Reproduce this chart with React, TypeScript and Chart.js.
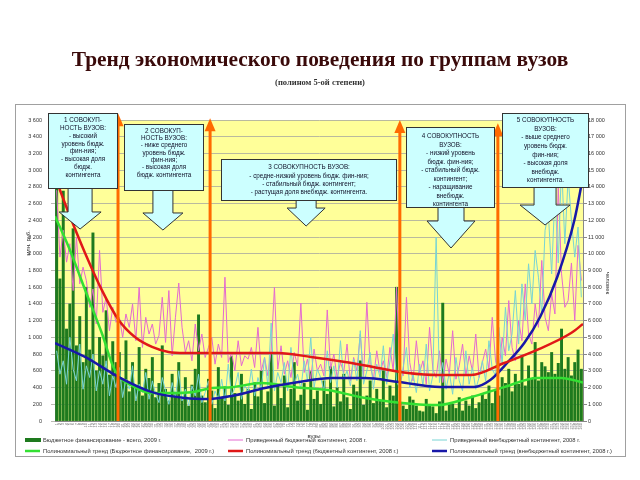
import React, { useEffect, useRef } from 'react';
import { Chart, registerables } from 'chart.js';

Chart.register(...registerables);

// ---------- DATA ----------
const universities: number[] = Array.from({ length: 160 }, (_, i) => i + 1);

// Бюджетное финансирование - всего, 2009 г. (млн. руб., left axis)
const budgetFinancing2009 = [
  2800, 1700, 2750, 1100, 1400, 2300, 900, 1250, 700, 1600,
  850, 2250, 600, 1000, 780, 1320, 550, 950, 700, 820,
  480, 960, 350, 700, 420, 880, 300, 620, 510, 760,
  280, 450, 900, 380, 240, 560, 330, 700, 260, 520,
  180, 430, 620, 1270, 300, 220, 500, 360, 150, 640,
  280, 410, 190, 770, 330, 240, 560, 200, 380, 140,
  460, 290, 600, 210, 350, 820, 180, 420, 270, 540,
  160, 380, 700, 240, 310, 450, 130, 590, 260, 360,
  200, 480, 320, 650, 170, 400, 230, 560, 280, 140,
  430, 350, 720, 190, 300, 480, 210, 380, 250, 600,
  160, 420, 300, 1600, 220, 180, 140, 290, 250, 180,
  120, 110, 260, 200, 170, 90, 230, 1410, 120, 210,
  200, 150, 280, 120, 240, 180, 300, 150, 220, 330,
  260, 420, 210, 380, 300, 520, 450, 620, 350, 560,
  440, 780, 420, 660, 500, 940, 480, 700, 650, 580,
  820, 560, 690, 1100, 620, 760, 540, 700, 850, 620,
];

// Приведенный бюджетный контингент, 2008 г. (человек, right axis)
const budgetContingent2008 = [
  13800, 9800, 11400, 9500, 10600, 7800, 11000, 8200, 9200, 8400,
  6800, 7900, 5800, 10200, 6500, 7400, 5400, 6800, 5900, 6200,
  5000, 6400, 5600, 7000, 4800, 8000, 4400, 6200, 5200, 5800,
  4600, 5100, 7400, 4700, 7800, 3900, 6200, 8250, 5600, 4100,
  4800, 3600, 5800, 4200, 5200, 3800, 4400, 5000, 3400, 4600,
  3800, 8600, 3500, 4100, 3000, 4800, 3300, 3900, 3700, 4400,
  3200, 5600, 3000, 3800, 2700, 4200, 8000, 3100, 4500, 2800,
  3600, 2600, 4100, 3300, 7050, 2900, 3700, 2500, 4300, 3000,
  3400, 2700, 6640, 3100, 4000, 2600, 3500, 2900, 4600, 2400,
  3800, 3000, 5200, 2700, 7100, 3300, 2500, 4200, 2900, 3600,
  2600, 4400, 3000, 8000, 3200, 2700, 7400, 3500, 2400, 4800,
  2900, 3600, 2200, 5600, 3100, 2600, 4200, 2300, 3700, 2800,
  5400, 2500, 3300, 4600, 2700, 3900, 3000, 5200, 2600, 3500,
  4300, 3100, 6200, 3600, 2800, 5000, 3900, 7200, 4400, 3600,
  6000, 4800, 8200, 5200, 4600, 7000, 5600, 9600, 6200, 5400,
  7600, 6400, 14000, 8800, 6800, 7200, 9450, 6000, 10500, 8400,
];

// Приведенный внебюджетный контингент, 2008 г. (человек, right axis)
const extraBudgetContingent2008 = [
  4200, 2800, 3600, 2200, 5000, 3100, 2400, 4600, 1900, 3300,
  2600, 4000, 1800, 3000, 2200, 3600, 1500, 2700, 2000, 3200,
  1400, 2500, 1900, 3300, 1200, 2200, 1700, 2900, 1300, 2400,
  1600, 1100, 2600, 1800, 1000, 2300, 1400, 3000, 1200, 1900,
  900, 2100, 1500, 2800, 1100, 1700, 2400, 1000, 1800, 1300,
  2500, 1200, 3400, 1500, 2000, 2900, 1300, 2200, 1700, 3100,
  1500, 2600, 1900, 3800, 2100, 5860, 1800, 2900, 2300, 3500,
  1800, 4400, 2200, 2800, 1900, 3600, 2400, 5000, 2000, 3100,
  2600, 1800, 4200, 2300, 3300, 2000, 4800, 2500, 3000, 2100,
  3700, 2400, 5400, 2200, 3000, 4100, 1900, 3400, 2600, 4500,
  2200, 3600, 5200, 2400, 1900, 3200, 4400, 2000, 2800, 1700,
  3400, 2100, 4600, 1800, 2700, 11000, 2300, 3500, 1900, 2900,
  1600, 3800, 2400, 1800, 4200, 2200, 3200, 1900, 2600, 3600,
  2400, 4800, 3100, 2700, 5600, 3400, 6800, 4200, 5200, 7800,
  4600, 8200, 6000, 9400, 7000, 10200, 8600, 6400, 11400, 12400,
  8800, 13600, 9450, 15400, 10600, 14600, 12000, 9800, 11600, 7400,
];

// Полиномиальные тренды
const budgetFinancingTrend = [
  { x: 0.5, y: 2450 }, { x: 4.65, y: 2080 }, { x: 9.6, y: 1570 }, { x: 14.7, y: 1050 },
  { x: 18.6, y: 610 }, { x: 24.7, y: 405 }, { x: 29.9, y: 335 }, { x: 34.9, y: 335 },
  { x: 42.1, y: 345 }, { x: 48.2, y: 395 }, { x: 54.1, y: 405 }, { x: 63, y: 455 },
  { x: 73.2, y: 405 }, { x: 83.2, y: 370 }, { x: 93.2, y: 285 }, { x: 103.5, y: 225 },
  { x: 116.3, y: 190 }, { x: 126.6, y: 285 }, { x: 136.6, y: 405 }, { x: 146.6, y: 515 },
  { x: 153.9, y: 515 }, { x: 160.5, y: 460 },
];
const budgetContingentTrend = [
  { x: 0.5, y: 14600 }, { x: 4.65, y: 12440 }, { x: 9.6, y: 10050 }, { x: 14.7, y: 7830 },
  { x: 19.8, y: 6040 }, { x: 24.7, y: 5020 }, { x: 29.9, y: 4430 }, { x: 34.9, y: 4130 },
  { x: 39.9, y: 4070 }, { x: 54.1, y: 4070 }, { x: 68.1, y: 4060 }, { x: 78.1, y: 3830 },
  { x: 88.4, y: 3530 }, { x: 98.4, y: 3170 }, { x: 107.5, y: 2870 }, { x: 116.3, y: 2750 },
  { x: 126.6, y: 2750 }, { x: 136.6, y: 3470 }, { x: 146.6, y: 4250 }, { x: 156.9, y: 5260 },
  { x: 160.5, y: 5800 },
];
const extraBudgetContingentTrend = [
  { x: 0.5, y: 4660 }, { x: 9.6, y: 3830 }, { x: 19.8, y: 2630 }, { x: 29.9, y: 1730 },
  { x: 39.9, y: 1380 }, { x: 47.1, y: 1320 }, { x: 54.1, y: 1500 }, { x: 64.1, y: 1970 },
  { x: 74.4, y: 2330 }, { x: 84.4, y: 2570 }, { x: 94.4, y: 2570 }, { x: 104.7, y: 2330 },
  { x: 117.2, y: 2030 }, { x: 127.5, y: 2030 }, { x: 132.4, y: 2450 }, { x: 137.5, y: 3470 },
  { x: 142.7, y: 4660 }, { x: 147.5, y: 6220 }, { x: 152.7, y: 8610 }, { x: 157.9, y: 12020 },
  { x: 160.5, y: 14600 },
];

const leftAxisMax = 3600;
const leftAxisStep = 200;
const rightAxisMax = 18000;
const rightAxisStep = 1000;

const seriesLabels = [
  'Бюджетное финансирование - всего, 2009 г.',
  'Приведенный бюджетный контингент, 2008 г.',
  'Приведенный внебюджетный контингент, 2008 г.',
  'Полиномиальный тренд (Бюджетное финансирование,  2009 г.)',
  'Полиномиальный тренд (бюджетный контингент, 2008 г.)',
  'Полиномиальный тренд (внебюджетный контингент, 2008 г.)',
];

const titleText = 'Тренд экономического поведения по группам вузов';
const subtitleText = '(полином 5-ой степени)';

// group boundaries (position in university order) and their arrow tops (left-axis units)
const groupBoundaries = [19.6, 47.5, 105, 134.7];
const groupArrowTops = [3680, 3620, 3600, 3560];

const groupNotes = [
  {
    lines: ['1 СОВОКУП-', 'НОСТЬ ВУЗОВ:', '- высокий', 'уровень бюдж.', 'фин-ния;', '- высокая доля', 'бюдж.', 'контингента'],
    x1: -1.6, x2: 19.3, top: 3684, bottom: 2787, ax: 8.1, head: 2500, tip: 2296,
  },
  {
    lines: ['2 СОВОКУП-', 'НОСТЬ ВУЗОВ:', '- ниже среднего', 'уровень бюдж.', 'фин-ния;', '- высокая доля', 'бюдж. контингента'],
    x1: 21.4, x2: 45.4, top: 3552, bottom: 2763, ax: 33.2, head: 2488, tip: 2284,
  },
  {
    lines: ['3 СОВОКУПНОСТЬ ВУЗОВ:', '- средне-низкий уровень бюдж. фин-ния;', '- стабильный бюдж. контингент;', '- растущая доля внебюдж. контингента.'],
    x1: 50.8, x2: 103.8, top: 3133, bottom: 2643, ax: 76.6, head: 2547, tip: 2332,
  },
  {
    lines: ['4 СОВОКУПНОСТЬ', 'ВУЗОВ:', '- низкий уровень', 'бюдж. фин-ния;', '- стабильный бюдж.', 'контингент;', '- наращивание', 'внебюдж.', 'контингента'],
    x1: 106.9, x2: 133.5, top: 3516, bottom: 2559, ax: 120.5, head: 2392, tip: 2069,
  },
  {
    lines: ['5 СОВОКУПНОСТЬ', 'ВУЗОВ:', '- выше среднего', 'уровень бюдж.', 'фин-ния;', '- высокая доля', 'внебюдж.', 'контингента.'],
    x1: 136, x2: 162, top: 3684, bottom: 2799, ax: 149, head: 2583, tip: 2344,
  },
];

// ---------- STYLE ----------
const SANS = "'Liberation Sans', Arial, sans-serif";
const SERIF = "'Liberation Serif', 'Times New Roman', serif";
const noteStyle = [
  { shaft: 12, headW: 21, lh: 7.8, first: 7 },
  { shaft: 10, headW: 20, lh: 7.3, first: 6.5 },
  { shaft: 10, headW: 19, lh: 8.3, first: 8 },
  { shaft: 13, headW: 24, lh: 8.5, first: 9 },
  { shaft: 11, headW: 25, lh: 8.6, first: 7 },
];

const fmt = (v: number) => {
  if (v >= 1000) return `${Math.floor(v / 1000)} ${String(v % 1000).padStart(3, '0')}`;
  return String(v);
};

const decorPlugin = {
  id: 'decor',
  beforeDraw(chart: any) {
    const { ctx, chartArea: a } = chart;
    ctx.save();
    ctx.fillStyle = '#ffffff';
    ctx.fillRect(0, 0, chart.width, chart.height);
    ctx.strokeStyle = '#a0a0a0';
    ctx.lineWidth = 1;
    ctx.strokeRect(15.5, 104.5, 610, 352);
    ctx.fillStyle = '#FFFF99';
    ctx.fillRect(a.left, a.top, a.right - a.left, a.bottom - a.top);
    // title
    ctx.textAlign = 'center';
    ctx.textBaseline = 'middle';
    ctx.fillStyle = '#3a0a0a';
    ctx.font = `bold 21.4px ${SERIF}`;
    ctx.fillText(titleText, 320, 60);
    ctx.fillStyle = '#333333';
    ctx.font = `bold 8.5px ${SERIF}`;
    ctx.fillText(subtitleText, 320, 83);
    ctx.restore();
  },
  afterDatasetsDraw(chart: any) {
    const { ctx, chartArea: a } = chart;
    const xs = chart.scales.x;
    const yl = chart.scales.y;
    ctx.save();
    groupBoundaries.forEach((b, k) => {
      const px = xs.getPixelForValue(b);
      const top = yl.getPixelForValue(groupArrowTops[k]);
      ctx.strokeStyle = '#FF6A00';
      ctx.lineWidth = 3;
      ctx.beginPath();
      ctx.moveTo(px, a.bottom);
      ctx.lineTo(px, top + 10);
      ctx.stroke();
      ctx.fillStyle = '#FF6A00';
      ctx.beginPath();
      ctx.moveTo(px, top);
      ctx.lineTo(px - 5.5, top + 13);
      ctx.lineTo(px + 5.5, top + 13);
      ctx.closePath();
      ctx.fill();
    });
    ctx.restore();
  },
  afterDraw(chart: any) {
    const { ctx } = chart;
    const xs = chart.scales.x;
    const yl = chart.scales.y;
    ctx.save();
    // x tick labels (tiny rotated university numbers)
    ctx.fillStyle = '#666666';
    ctx.font = `4px ${SANS}`;
    ctx.textAlign = 'right';
    ctx.textBaseline = 'middle';
    universities.forEach((u) => {
      const px = xs.getPixelForValue(u);
      ctx.save();
      ctx.translate(px, 423);
      ctx.rotate(-Math.PI / 2);
      ctx.fillText(String(u), 0, 0);
      ctx.restore();
    });
    // axis titles
    ctx.fillStyle = '#333333';
    ctx.font = `6px ${SANS}`;
    ctx.textAlign = 'center';
    ctx.textBaseline = 'middle';
    ctx.save();
    ctx.translate(28, 243);
    ctx.rotate(-Math.PI / 2);
    ctx.fillText('млн. руб.', 0, 0);
    ctx.restore();
    ctx.save();
    ctx.translate(608, 283);
    ctx.rotate(Math.PI / 2);
    ctx.fillText('человек', 0, 0);
    ctx.restore();
    ctx.fillText('вузы', 314, 436);

    // notes
    groupNotes.forEach((n, k) => {
      const st = noteStyle[k];
      const x1 = Math.round(xs.getPixelForValue(n.x1)) + 0.5;
      const x2 = Math.round(xs.getPixelForValue(n.x2)) + 0.5;
      const y1 = Math.round(yl.getPixelForValue(n.top)) + 0.5;
      const y2 = Math.round(yl.getPixelForValue(n.bottom)) + 0.5;
      const cx = xs.getPixelForValue(n.ax);
      const hy = yl.getPixelForValue(n.head);
      const ty = yl.getPixelForValue(n.tip);
      ctx.fillStyle = '#CCFFFF';
      ctx.strokeStyle = '#333333';
      ctx.lineWidth = 1;
      ctx.beginPath();
      ctx.moveTo(cx - st.shaft, y2);
      ctx.lineTo(cx - st.shaft, hy);
      ctx.lineTo(cx - st.headW, hy);
      ctx.lineTo(cx, ty);
      ctx.lineTo(cx + st.headW, hy);
      ctx.lineTo(cx + st.shaft, hy);
      ctx.lineTo(cx + st.shaft, y2);
      ctx.fill();
      ctx.stroke();
      ctx.fillRect(x1, y1, x2 - x1, y2 - y1);
      ctx.strokeRect(x1, y1, x2 - x1, y2 - y1);
      ctx.fillStyle = '#101028';
      ctx.font = `6.3px ${SANS}`;
      ctx.textAlign = 'center';
      ctx.textBaseline = 'middle';
      const mid = (x1 + x2) / 2;
      n.lines.forEach((t, i) => {
        ctx.fillText(t, mid, y1 + st.first + i * st.lh);
      });
    });

    // legend (3 columns x 2 rows)
    const cols = [25, 228, 432];
    const rows = [440, 451];
    ctx.font = `5.8px ${SANS}`;
    ctx.textAlign = 'left';
    ctx.textBaseline = 'middle';
    chart.data.datasets.forEach((ds: any, i: number) => {
      const x = cols[i % 3];
      const y = rows[Math.floor(i / 3)];
      if (ds.type === 'bar' || !ds.type) {
        ctx.fillStyle = ds.backgroundColor;
        ctx.fillRect(x, y - 2, 16, 4);
      } else {
        ctx.strokeStyle = ds.borderColor;
        ctx.lineWidth = ds.borderWidth;
        ctx.beginPath();
        ctx.moveTo(x, y);
        ctx.lineTo(x + 15, y);
        ctx.stroke();
      }
      ctx.fillStyle = '#333333';
      ctx.fillText(ds.label, x + 18, y);
    });
    ctx.restore();
  },
};

export default function App() {
  const ref = useRef<HTMLCanvasElement | null>(null);
  useEffect(() => {
    if (!ref.current) return;
    const chart = new Chart(ref.current, {
      type: 'bar',
      data: {
        labels: universities,
        datasets: [
          {
            type: 'bar',
            label: seriesLabels[0],
            data: budgetFinancing2009,
            yAxisID: 'y',
            backgroundColor: '#1E7A1E',
            borderColor: '#145214',
            borderWidth: 0,
            barThickness: 2.3,
            order: 6,
          } as any,
          {
            type: 'line',
            label: seriesLabels[1],
            data: budgetContingent2008,
            yAxisID: 'y1',
            borderColor: '#E46AD0',
            borderWidth: 1,
            pointRadius: 0,
            tension: 0,
            order: 5,
          },
          {
            type: 'line',
            label: seriesLabels[2],
            data: extraBudgetContingent2008,
            yAxisID: 'y1',
            borderColor: '#78D4D4',
            borderWidth: 1,
            pointRadius: 0,
            tension: 0,
            order: 4,
          },
          {
            type: 'line',
            label: seriesLabels[3],
            data: budgetFinancingTrend,
            yAxisID: 'y',
            borderColor: '#33E033',
            borderWidth: 2.5,
            pointRadius: 0,
            cubicInterpolationMode: 'monotone',
            order: 3,
          },
          {
            type: 'line',
            label: seriesLabels[4],
            data: budgetContingentTrend,
            yAxisID: 'y1',
            borderColor: '#E01818',
            borderWidth: 2.5,
            pointRadius: 0,
            cubicInterpolationMode: 'monotone',
            order: 1,
          },
          {
            type: 'line',
            label: seriesLabels[5],
            data: extraBudgetContingentTrend,
            yAxisID: 'y1',
            borderColor: '#1818A8',
            borderWidth: 2.5,
            pointRadius: 0,
            cubicInterpolationMode: 'monotone',
            order: 2,
          },
        ] as any,
      },
      options: {
        responsive: false,
        animation: false,
        events: [],
        layout: { padding: { left: 0, right: 0, top: 120, bottom: 0 } },
        plugins: {
          legend: { display: false },
          title: { display: false },
          tooltip: { enabled: false },
        },
        scales: {
          x: {
            type: 'linear',
            min: 0.5,
            max: 160.5,
            offset: false,
            grid: { display: false, offset: false },
            border: { display: true, color: '#888888' },
            ticks: { display: false },
            afterFit: (s: any) => { s.height = 59; },
          },
          y: {
            type: 'linear',
            position: 'left',
            min: 0,
            max: leftAxisMax,
            grid: { color: '#A8A8A0', lineWidth: 0.8, tickLength: 4, drawTicks: true },
            border: { display: true, color: '#888888' },
            ticks: {
              stepSize: leftAxisStep,
              autoSkip: false,
              padding: 9,
              color: '#333333',
              font: { size: 5.5, family: SANS },
              callback: (v: any) => fmt(Number(v)),
            },
            afterFit: (s: any) => { s.width = 55; },
          },
          y1: {
            type: 'linear',
            position: 'right',
            min: 0,
            max: rightAxisMax,
            grid: { drawOnChartArea: false, color: '#888888', tickLength: 4 },
            border: { display: true, color: '#888888' },
            ticks: {
              stepSize: rightAxisStep,
              autoSkip: false,
              padding: 1,
              color: '#333333',
              font: { size: 5.5, family: SANS },
              callback: (v: any) => fmt(Number(v)),
            },
            afterFit: (s: any) => { s.width = 57; },
          },
        },
      } as any,
      plugins: [decorPlugin],
    });
    return () => chart.destroy();
  }, []);
  return (
    <div style={{ position: 'absolute', left: 0, top: 0, width: 640, height: 480, background: '#fff' }}>
      <canvas ref={ref} width={640} height={480} style={{ display: 'block' }} />
    </div>
  );
}
